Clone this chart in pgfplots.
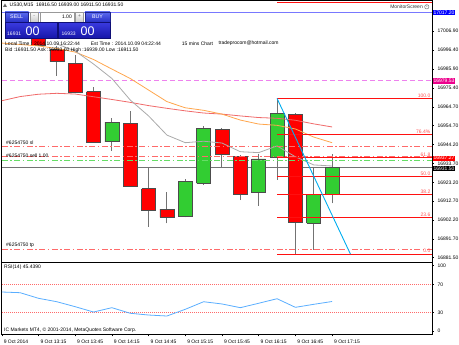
\documentclass[border=0pt]{standalone}
\usepackage{fontspec}
\setmainfont{Liberation Sans}
\usepackage{pgfplots}
\pgfplotsset{compat=1.18}
\definecolor{maRed}{HTML}{F06A6A}
\definecolor{maOrange}{HTML}{FFA64D}
\definecolor{maGray}{HTML}{AAAAAA}
\definecolor{rsiBlue}{HTML}{5AAEFF}
\definecolor{lineBlue}{HTML}{7878FF}
\definecolor{violetL}{HTML}{EE82EE}
\definecolor{ordRed}{HTML}{FF6A6A}
\definecolor{ordGreen}{HTML}{66DD66}
\definecolor{candRed}{HTML}{FF0000}
\definecolor{candGreen}{HTML}{32CD32}
\definecolor{fibRed}{HTML}{FF1010}
\definecolor{fibTxt}{HTML}{FF5050}
\definecolor{btnTop}{HTML}{5C6CF0}
\definecolor{btnBot}{HTML}{2A32C8}
\definecolor{boxTop}{HTML}{3A3AE0}
\definecolor{boxBot}{HTML}{1616A8}
\newcommand{\sm}{\fontsize{5}{6}\selectfont}
\begin{document}
\begin{tikzpicture}[x=1pt,y=1pt]
\path[use as bounding box] (0,0) rectangle (459,-345);
\pgfplotsset{commonx/.style={xmin=-0.005, xmax=23.445, scale only axis, width=430.3pt, anchor=north west, no markers, unbounded coords=jump, axis line style={black,line width=0.5pt}, tick style={black,line width=0.4pt}, tick align=outside, major tick length=2pt, /pgf/number format/assume math mode=true, ticklabel style={font=\sm, text=black}}}
% ---------------- main price panel ----------------
\begin{axis}[commonx, at={(1.7pt,-0.5pt)}, height=261.8pt, ymin=16878.95, ymax=17023.73,
  xtick=\empty, ytick pos=right, yticklabel pos=right,
  ytick={17006.9,16996.4,16985.9,16975.4,16964.7,16954.7,16944.2,16933.7,16923.2,16912.7,16902.2,16891.7,16881.5},
  yticklabels={17006.90,16996.40,16985.90,16975.40,16964.70,16954.70,16944.20,16933.70,16923.20,16912.70,16902.20,16891.70,16881.50}]
% horizontal objects
\addplot[lineBlue, line width=1.3pt] coordinates {(0,17017.2) (24,17017.2)};
\addplot[violetL, line width=0.9pt, dash pattern=on 5pt off 3pt] coordinates {(0,16979.53) (24,16979.53)};
\addplot[black!55, line width=0.8pt] coordinates {(0,16931.5) (24,16931.5)};
% wicks
\addplot[black!55, line width=1pt] coordinates {
(2,16999.1) (2,17012) (2,nan)
(3,16982.0) (3,16998.6) (3,nan)
(4,16972.3) (4,16993.6) (4,nan)
(5,16945.3) (5,16975.9) (5,nan)
(6,16940.7) (6,16958.9) (6,nan)
(7,16920.6) (7,16962.8) (7,nan)
(8,16898.6) (8,16930.9) (8,nan)
(9,16900.5) (9,16917.7) (9,nan)
(10,16903.8) (10,16924.8) (10,nan)
(11,16921.7) (11,16954.3) (11,nan)
(12,16931.5) (12,16953.4) (12,nan)
(13,16913.4) (13,16938.3) (13,nan)
(14,16910.1) (14,16938.8) (14,nan)
(15,16924.5) (15,16969.6) (15,nan)
(16,16883.5) (16,16961.3) (16,nan)
(17,16885.8) (17,16931.8) (17,nan)
(18,16911.5) (18,16939.0)};
% red bodies
\addplot[draw=black!70, fill=candRed, line width=0.6pt] coordinates {
(1.62,17008) (2.38,17008) (2.38,16999.1) (1.62,16999.1) (1.62,17008) (2,nan)
(2.62,16996.7) (3.38,16996.7) (3.38,16989.9) (2.62,16989.9) (2.62,16996.7) (3,nan)
(3.62,16989.0) (4.38,16989.0) (4.38,16973.0) (3.62,16973.0) (3.62,16989.0) (4,nan)
(4.62,16973.3) (5.38,16973.3) (5.38,16945.3) (4.62,16945.3) (4.62,16973.3) (5,nan)
(6.62,16955.8) (7.38,16955.8) (7.38,16920.8) (6.62,16920.8) (6.62,16955.8) (7,nan)
(7.62,16919.6) (8.38,16919.6) (8.38,16907.9) (7.62,16907.9) (7.62,16919.6) (8,nan)
(8.62,16908.3) (9.38,16908.3) (9.38,16903.8) (8.62,16903.8) (8.62,16908.3) (9,nan)
(11.62,16952.5) (12.38,16952.5) (12.38,16938.8) (11.62,16938.8) (11.62,16952.5) (12,nan)
(12.62,16937.7) (13.38,16937.7) (13.38,16916.7) (12.62,16916.7) (12.62,16937.7) (13,nan)
(15.62,16960.9) (16.38,16960.9) (16.38,16901.2) (15.62,16901.2) (15.62,16960.9)};
% green bodies
\addplot[draw=black!70, fill=candGreen, line width=0.6pt] coordinates {
(5.62,16945.6) (6.38,16945.6) (6.38,16956.4) (5.62,16956.4) (5.62,16945.6) (6,nan)
(9.62,16904.6) (10.38,16904.6) (10.38,16923.9) (9.62,16923.9) (9.62,16904.6) (10,nan)
(10.62,16922.6) (11.38,16922.6) (11.38,16953.1) (10.62,16953.1) (10.62,16922.6) (11,nan)
(13.62,16917.4) (14.38,16917.4) (14.38,16936.1) (13.62,16936.1) (13.62,16917.4) (14,nan)
(14.62,16936.8) (15.38,16936.8) (15.38,16961.3) (14.62,16961.3) (14.62,16936.8) (15,nan)
(16.62,16900.5) (17.38,16900.5) (17.38,16916.7) (16.62,16916.7) (16.62,16900.5) (17,nan)
(17.62,16916.5) (18.38,16916.5) (18.38,16931.5) (17.62,16931.5) (17.62,16916.5)};
% moving averages
\addplot[maRed, line width=0.8pt] coordinates {(0,16968.3)(1,16970.6)(2,16971.9)(3,16972.4)(4,16972.0)(5,16970.5)(6,16969.0)(7,16967.4)(8,16965.6)(9,16964.1)(10,16962.7)(11,16961.5)(12,16960.9)(13,16959.9)(14,16959.0)(15,16958.6)(16,16957.5)(17,16955.5)(18,16953.8)};
\addplot[maOrange, line width=0.8pt] coordinates {(0,17000.2)(1,16999.4)(2,16998.6)(3,16997.2)(4,16995.2)(5,16991.1)(6,16985.8)(7,16980.6)(8,16974.2)(9,16967.8)(10,16964.4)(11,16963.0)(12,16960.9)(13,16957.6)(14,16955.4)(15,16954.7)(16,16952.7)(17,16948.2)(18,16945.1)};
\addplot[maGray, line width=0.8pt] coordinates {(3,16999.7)(4,16995.8)(5,16988.6)(6,16980.6)(7,16968.7)(8,16959.9)(9,16949.3)(10,16945.1)(11,16945.9)(12,16944.9)(13,16940.1)(14,16939.6)(15,16943.3)(16,16937.3)(17,16932.8)(18,16932.2)};
% order lines
\addplot[ordRed, line width=0.7pt, dash pattern=on 6pt off 2.5pt on 1.5pt off 2.5pt] coordinates {(0,16943.3) (24,16943.3)};
\addplot[ordRed, line width=0.7pt, dash pattern=on 6pt off 2.5pt on 1.5pt off 2.5pt] coordinates {(0,16937.27) (24,16937.27)};
\addplot[ordGreen, line width=0.7pt, dash pattern=on 6pt off 2.5pt on 1.5pt off 2.5pt] coordinates {(0,16935.1) (24,16935.1)};
\addplot[ordRed, line width=0.7pt, dash pattern=on 6pt off 2.5pt on 1.5pt off 2.5pt] coordinates {(0,16886.1) (24,16886.1)};
% fibonacci
\addplot[fibRed, line width=1.1pt] coordinates {
(15,17022.8) (24,17022.8) (15,nan)
(15,16969.6) (24,16969.6) (15,nan)
(15,16949.4) (24,16949.4) (15,nan)
(15,16936.7) (24,16936.7) (15,nan)
(15,16926.55) (24,16926.55) (15,nan)
(15,16916.4) (24,16916.4) (15,nan)
(15,16903.8) (24,16903.8) (15,nan)
(15,16883.5) (24,16883.5)};
\addplot[cyan, line width=0.9pt] coordinates {(15,16969.6) (19,16883.5)};
\end{axis}
% ---------------- RSI panel ----------------
\begin{axis}[commonx, at={(1.7pt,-262.3pt)}, height=72pt, ymin=-1.43, ymax=101.43,
  xtick={0,2,...,18},
  xticklabels={9 Oct 2014,9 Oct 13:15,9 Oct 13:45,9 Oct 14:15,9 Oct 14:45,9 Oct 15:15,9 Oct 15:45,9 Oct 16:15,9 Oct 16:45,9 Oct 17:15},
  xtick pos=bottom, xticklabel style={anchor=north west, xshift=-1.5pt},
  ytick pos=right, yticklabel pos=right, ytick={96.6,70,30,3.7}, yticklabels={100,70,30,0}]
\addplot[ordRed, line width=0.8pt, dash pattern=on 1pt off 1pt] coordinates {(0,70) (24,70)};
\addplot[ordRed, line width=0.8pt, dash pattern=on 1pt off 1pt] coordinates {(0,30) (24,30)};
\addplot[rsiBlue, line width=0.8pt] coordinates {(0,59.0)(1,58.0)(2,50.0)(3,45.1)(4,38.0)(5,30.4)(6,36.6)(7,28.6)(8,26.1)(9,24.7)(10,34.3)(11,45.1)(12,41.9)(13,36.6)(14,42.9)(15,49.4)(16,37.1)(17,41.4)(18,45.44)};
\end{axis}
% ---------------- texts and overlays ----------------
\fill[black!60] (3,-7) -- (7,-7) -- (5,-3.5) -- cycle;
\node[anchor=west, font=\sm, inner sep=0pt] at (9.5,-5.5) {US30,M15\ \ 16916.50 16939.00 16911.50 16931.50};
\node[anchor=east, font=\sm, inner sep=0pt, text=black!80] at (423,-6.8) {MonitorScreen};
\draw[black!60, line width=0.4pt] (426.8,-6.8) circle (2.2);
\node[font=\fontsize{3}{3}\selectfont, inner sep=0pt, text=black!70] at (426.8,-6.8) {c};
% trade panel
\shade[top color=btnTop, bottom color=btnBot, draw=btnBot!70!black, line width=0.3pt] (5,-11.7) rectangle (28.5,-21.7);
\node[text=white, font=\fontsize{5.3}{6}\selectfont, inner sep=0pt] at (16.7,-16.7) {SELL};
\shade[top color=white, bottom color=black!20, draw=black!40, line width=0.3pt] (30,-11.7) rectangle (38.5,-21.7);
\node[font=\sm, text=black!60, inner sep=0pt] at (34.2,-16.5) {-};
\draw[fill=white, draw=black!40, line width=0.3pt] (40,-11.7) rectangle (74.5,-21.7);
\node[anchor=east, font=\sm, inner sep=0pt] at (72,-16.7) {1.00};
\shade[top color=white, bottom color=black!20, draw=black!40, line width=0.3pt] (75.5,-11.7) rectangle (83.5,-21.7);
\node[font=\sm, text=black!60, inner sep=0pt] at (79.5,-16.5) {+};
\shade[top color=btnTop, bottom color=btnBot, draw=btnBot!70!black, line width=0.3pt] (85,-11.7) rectangle (110,-21.7);
\node[text=white, font=\fontsize{5.3}{6}\selectfont, inner sep=0pt] at (97.5,-16.7) {BUY};
\shade[top color=boxTop, bottom color=boxBot, draw=boxBot!70!black, line width=0.3pt] (5,-22.3) rectangle (56.7,-38.3);
\shade[top color=boxTop, bottom color=boxBot, draw=boxBot!70!black, line width=0.3pt] (58.3,-22.3) rectangle (110,-38.3);
\node[anchor=base west, text=white, font=\fontsize{5}{6}\selectfont, inner sep=0pt] at (7,-35.3) {16931};
\node[anchor=base west, text=white, font=\fontsize{12.5}{13}\selectfont, inner sep=0pt] at (25.5,-35.3) {00};
\node[anchor=base west, text=white, font=\fontsize{5}{6}\selectfont, inner sep=0pt] at (61.5,-35.3) {16933};
\node[anchor=base west, text=white, font=\fontsize{12.5}{13}\selectfont, inner sep=0pt] at (80.5,-35.3) {00};
% info lines
\node[anchor=west, font=\sm, inner sep=0pt] at (5,-43.3) {Local Time : 2014.10.09 16:22:44};
\node[anchor=west, font=\sm, inner sep=0pt] at (90.7,-43.3) {Est Time : 2014.10.09 04:22:44};
\node[anchor=west, font=\sm, inner sep=0pt] at (181.7,-43.3) {15 mins Chart};
\node[anchor=west, font=\sm, inner sep=0pt] at (218.3,-43.3) {tradeprocom@hotmail.com};
\node[anchor=west, font=\sm, inner sep=0pt] at (5,-50) {Bid :16931.50 Ask :16933.00 High :16939.00 Low :16911.50};
% order labels
\node[anchor=west, font=\sm, inner sep=0pt] at (6,-142.3) {\#6254750 sl};
\node[anchor=west, font=\sm, inner sep=0pt] at (6,-155.3) {\#6254750 sell 1.00};
\node[anchor=west, font=\sm, inner sep=0pt] at (6,-245.5) {\#6254750 tp};
% fib labels
\foreach \yy/\tt in {98.3/100.0, 135/76.4\%, 157.7/61.8, 176.2/50.0, 194.6/38.2, 217.3/23.6, 254/0.0}
  \node[anchor=south east, font=\sm, inner sep=0pt, text=fibTxt] at (430.5,-\yy+0.9) {\tt};
% price boxes on the right scale
\node[anchor=west, fill=blue, text=white, font=\sm, inner xsep=1pt, inner ysep=0.9pt] at (432.4,-12.3) {17017.20};
\node[anchor=west, fill=magenta, text=white, font=\sm, inner xsep=1pt, inner ysep=0.9pt] at (432.4,-81) {16979.53};
\node[anchor=west, fill=red, text=white, font=\sm, inner xsep=1pt, inner ysep=0.9pt] at (432.4,-158.2) {16937.27};
\node[anchor=west, fill=black, text=white, font=\sm, inner xsep=1pt, inner ysep=0.9pt] at (432.4,-168.3) {16931.50};
% RSI panel texts
\node[anchor=west, font=\sm, inner sep=0pt] at (4,-267.3) {RSI(14) 45.4390};
\node[anchor=west, font=\sm, inner sep=0pt] at (4,-330) {IC Markets MT4, © 2001-2014, MetaQuotes Software Corp.};
\end{tikzpicture}
\end{document}
